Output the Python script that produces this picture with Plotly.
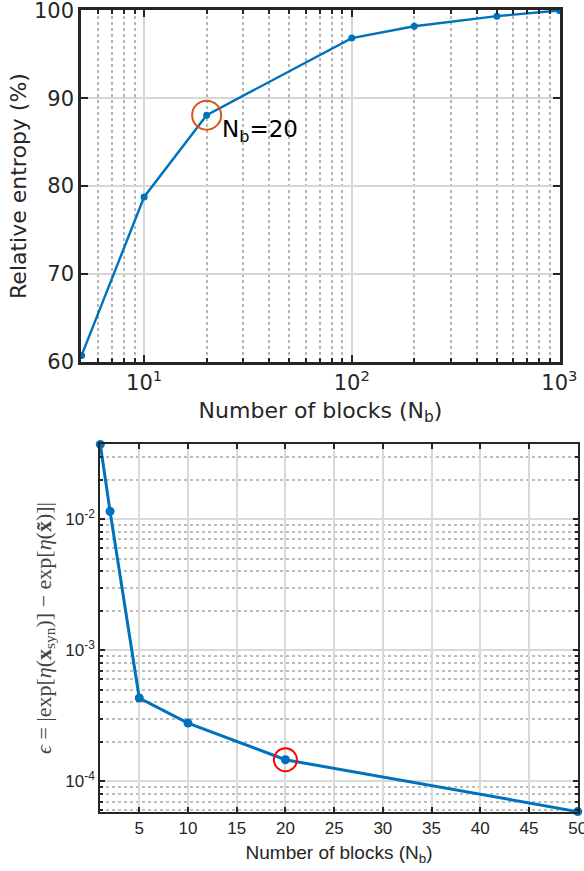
import numpy as np
import plotly.graph_objects as go

# ---------------- data ----------------
nb_top = [5, 10, 20, 100, 200, 500, 1000]
entropy_pct = [60.7, 78.75, 88.07, 96.85, 98.2, 99.35, 100.0]
highlight_top = 20

nb_bot = [1, 2, 5, 10, 20, 50]
eps_vals = [0.0372, 0.0115, 4.32e-4, 2.78e-4, 1.46e-4, 5.87e-5]
highlight_bot = 20

top_xticks = [10, 100, 1000]
top_xticklabels = ["10<sup>1</sup>", "10<sup>2</sup>", "10<sup>3</sup>"]
top_yticks = [60, 70, 80, 90, 100]
bot_xticks = [5, 10, 15, 20, 25, 30, 35, 40, 45, 50]
bot_yticks = [1e-4, 1e-3, 1e-2]
bot_yticklabels = ["10<sup>-4</sup>", "10<sup>-3</sup>", "10<sup>-2</sup>"]

BLUE = "#0072BD"
W, H = 584, 871

top_minor = [m * 10 ** k for k in range(0, 3) for m in range(2, 10)
             if 5 <= m * 10 ** k <= 1000]
bot_minor = [m * 10.0 ** k for k in (-5, -4, -3, -2) for m in range(2, 10)]

def py(p):
    return 1 - p / H

EPS = 0.003  # tiny range padding so edge points are not dropped

fig = go.Figure()

# top chart
fig.add_trace(go.Scatter(x=nb_top, y=entropy_pct, mode="lines+markers",
                         line=dict(color=BLUE, width=2.4),
                         marker=dict(color=BLUE, size=7),
                         xaxis="x", yaxis="y", cliponaxis=False, showlegend=False))
hi = nb_top.index(highlight_top)
fig.add_trace(go.Scatter(x=[nb_top[hi]], y=[entropy_pct[hi]], mode="markers",
                         marker=dict(symbol="circle-open", size=29, color="#D95319",
                                     line=dict(width=2, color="#D95319")),
                         xaxis="x", yaxis="y", showlegend=False))

# bottom chart
fig.add_trace(go.Scatter(x=nb_bot, y=eps_vals, mode="lines+markers",
                         line=dict(color=BLUE, width=3),
                         marker=dict(color=BLUE, size=9),
                         xaxis="x2", yaxis="y2", cliponaxis=False, showlegend=False))
hb = nb_bot.index(highlight_bot)
fig.add_trace(go.Scatter(x=[nb_bot[hb]], y=[eps_vals[hb]], mode="markers",
                         marker=dict(symbol="circle-open", size=23, color="#FF0000",
                                     line=dict(width=2, color="#FF0000")),
                         xaxis="x2", yaxis="y2", showlegend=False))

topfont = dict(family="DejaVu Sans", size=21, color="#262626")
toptitle = dict(family="DejaVu Sans", size=22, color="#262626")
botfont = dict(family="Liberation Sans", size=17, color="#262626")

fig.update_layout(
    width=W, height=H,
    margin=dict(l=0, r=0, t=0, b=0),
    paper_bgcolor="white", plot_bgcolor="white",
    xaxis=dict(
        type="log", range=[np.log10(5) - EPS, 3 + EPS], domain=[81 / W, 560 / W], anchor="y",
        tickvals=top_xticks, ticktext=top_xticklabels, tickfont=topfont,
        ticklabeloverflow="allow",
        ticks="inside", ticklen=7, tickwidth=2, tickcolor="#262626",
        showline=True, linecolor="#262626", linewidth=2.5, mirror="ticks",
        showgrid=True, gridcolor="#d6d6d6", gridwidth=2,
        minor=dict(tickvals=top_minor, ticks="inside", ticklen=4, tickwidth=2,
                   tickcolor="#262626", showgrid=True, griddash="dot",
                   gridcolor="#b5b5b5", gridwidth=2),
        title=dict(text="Number of blocks (N<sub>b</sub>)", font=toptitle, standoff=9),
        automargin=False, zeroline=False,
    ),
    yaxis=dict(
        range=[60 - 0.05, 100 + 0.05], domain=[py(362), py(10)], anchor="x",
        tickvals=top_yticks, tickfont=topfont, ticklabeloverflow="allow",
        ticks="inside", ticklen=7, tickwidth=2, tickcolor="#262626",
        showline=True, linecolor="#262626", linewidth=2.5, mirror="ticks",
        showgrid=True, gridcolor="#d6d6d6", gridwidth=2,
        title=dict(text="Relative entropy (%)", font=toptitle, standoff=2),
        automargin=False, zeroline=False,
    ),
    xaxis2=dict(
        range=[1 - 0.03, 50 + 0.03], domain=[100 / W, 578 / W], anchor="y2",
        tickvals=bot_xticks, tickfont=botfont, ticklabeloverflow="allow",
        ticks="inside", ticklen=5, tickwidth=1.5, tickcolor="#262626",
        showline=True, linecolor="#262626", linewidth=1.5, mirror="ticks",
        showgrid=True, gridcolor="#d9d9d9", gridwidth=1.5,
        title=dict(text="Number of blocks (N<sub>b</sub>)",
                   font=dict(family="Liberation Sans", size=19, color="#262626"), standoff=9),
        automargin=False, zeroline=False,
    ),
    yaxis2=dict(
        type="log", range=[np.log10(5.87e-5) - EPS, np.log10(0.0372) + EPS],
        domain=[py(812), py(444)], anchor="x2",
        tickvals=bot_yticks, ticktext=bot_yticklabels, tickfont=botfont,
        ticklabeloverflow="allow",
        ticks="inside", ticklen=5, tickwidth=1.5, tickcolor="#262626",
        showline=True, linecolor="#262626", linewidth=1.5, mirror="ticks",
        showgrid=True, gridcolor="#d9d9d9", gridwidth=1.5,
        minor=dict(tickvals=bot_minor, ticks="inside", ticklen=3, tickwidth=1.5,
                   tickcolor="#262626", showgrid=True, griddash="dot",
                   gridcolor="#bdbdbd", gridwidth=1.5),
        title=dict(text="<i>ϵ</i> = |exp[<i>η</i>(<b>x</b><sub>syn</sub>)] − exp[<i>η</i>(<b>x̃</b>)]|",
                   font=dict(family="Liberation Serif", size=22, color="#444444"), standoff=8),
        automargin=False, zeroline=False,
    ),
    annotations=[dict(
        x=np.log10(highlight_top), y=entropy_pct[hi], xref="x", yref="y",
        text="N<sub>b</sub>=20", showarrow=False, xanchor="left", yanchor="middle",
        xshift=13, yshift=-16, font=dict(family="DejaVu Sans", size=23, color="#000000"),
    )],
)

fig.write_html("out.html")
